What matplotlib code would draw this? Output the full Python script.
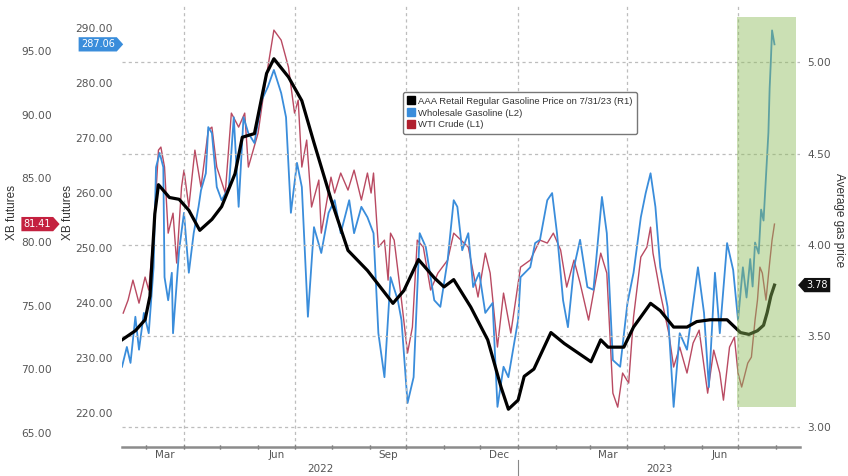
import matplotlib
matplotlib.use('Agg')
import matplotlib.pyplot as plt
import matplotlib.dates as mdates
from matplotlib.lines import Line2D
from matplotlib.patches import Rectangle
from matplotlib.path import Path
from matplotlib.transforms import blended_transform_factory
import pandas as pd

# AAA retail regular gasoline ($/gal, right axis)
gas_dates = ['2022-02-09', '2022-02-20', '2022-02-28', '2022-03-04', '2022-03-08', '2022-03-11',
             '2022-03-20', '2022-03-28', '2022-04-05', '2022-04-14', '2022-04-24', '2022-05-02',
             '2022-05-13', '2022-05-19', '2022-05-29', '2022-06-08', '2022-06-14', '2022-06-26',
             '2022-07-07', '2022-07-17', '2022-07-31', '2022-08-14', '2022-08-30', '2022-09-13',
             '2022-09-20', '2022-09-29', '2022-10-11', '2022-10-24', '2022-11-01', '2022-11-09',
             '2022-11-23', '2022-12-07', '2022-12-18', '2022-12-24', '2023-01-01', '2023-01-06',
             '2023-01-14', '2023-01-28', '2023-02-08', '2023-02-19', '2023-03-02', '2023-03-10',
             '2023-03-16', '2023-03-29', '2023-04-06', '2023-04-20', '2023-04-28', '2023-05-09',
             '2023-05-20', '2023-05-28', '2023-06-08', '2023-06-22', '2023-07-03', '2023-07-10',
             '2023-07-17', '2023-07-22', '2023-07-25', '2023-07-28', '2023-07-31']
gas_vals = [3.48, 3.53, 3.59, 3.72, 4.17, 4.33,
            4.26, 4.25, 4.19, 4.08, 4.14, 4.21,
            4.39, 4.59, 4.61, 4.94, 5.02, 4.92,
            4.79, 4.56, 4.25, 3.97, 3.86, 3.74,
            3.68, 3.75, 3.92, 3.82, 3.77, 3.81,
            3.66, 3.48, 3.22, 3.10, 3.15, 3.28,
            3.32, 3.52, 3.46, 3.41, 3.36, 3.48,
            3.44, 3.44, 3.55, 3.68, 3.64, 3.55,
            3.55, 3.58, 3.59, 3.59, 3.52, 3.51,
            3.53, 3.56, 3.63, 3.72, 3.78]

# Wholesale gasoline, XB futures (L2)
xb_dates = ['2022-02-09', '2022-02-13', '2022-02-16', '2022-02-20', '2022-02-23', '2022-02-27',
            '2022-03-03', '2022-03-07', '2022-03-09', '2022-03-12', '2022-03-15', '2022-03-16',
            '2022-03-19', '2022-03-22', '2022-03-23', '2022-03-28', '2022-04-01', '2022-04-05',
            '2022-04-09', '2022-04-13', '2022-04-15', '2022-04-19', '2022-04-21', '2022-04-24',
            '2022-04-28', '2022-05-02', '2022-05-08', '2022-05-12', '2022-05-16', '2022-05-20',
            '2022-05-24', '2022-05-29', '2022-06-04', '2022-06-09', '2022-06-14', '2022-06-20',
            '2022-06-24', '2022-06-28', '2022-07-03', '2022-07-07', '2022-07-12', '2022-07-17',
            '2022-07-23', '2022-07-29', '2022-08-03', '2022-08-08', '2022-08-15', '2022-08-19',
            '2022-08-25', '2022-08-30', '2022-09-04', '2022-09-08', '2022-09-13', '2022-09-18',
            '2022-09-24', '2022-09-27', '2022-10-02', '2022-10-07', '2022-10-12', '2022-10-17',
            '2022-10-24', '2022-10-29', '2022-11-04', '2022-11-09', '2022-11-12', '2022-11-16',
            '2022-11-21', '2022-11-25', '2022-11-30', '2022-12-05', '2022-12-11', '2022-12-15',
            '2022-12-20', '2022-12-24', '2023-01-01', '2023-01-03', '2023-01-11', '2023-01-15',
            '2023-01-19', '2023-01-25', '2023-01-29', '2023-02-02', '2023-02-07', '2023-02-11',
            '2023-02-16', '2023-02-21', '2023-02-27', '2023-03-04', '2023-03-11', '2023-03-15',
            '2023-03-20', '2023-03-26', '2023-04-01', '2023-04-06', '2023-04-12', '2023-04-16',
            '2023-04-20', '2023-04-24', '2023-04-28', '2023-05-04', '2023-05-09', '2023-05-14',
            '2023-05-20', '2023-05-24', '2023-05-29', '2023-06-03', '2023-06-07', '2023-06-12',
            '2023-06-16', '2023-06-22', '2023-06-27', '2023-07-01', '2023-07-05', '2023-07-08',
            '2023-07-11', '2023-07-13', '2023-07-15', '2023-07-18', '2023-07-20', '2023-07-22',
            '2023-07-24', '2023-07-26', '2023-07-27', '2023-07-28', '2023-07-29', '2023-07-31']
xb_vals = [228.4, 232.0, 229.1, 237.5, 231.5, 238.2,
           234.5, 246.5, 264.7, 267.3, 264.7, 244.7,
           240.5, 245.5, 234.5, 249.6, 256.4, 245.5,
           252.7, 257.5, 260.5, 263.6, 272.0, 270.9,
           261.1, 258.7, 261.1, 273.8, 257.5, 273.8,
           270.9, 269.1, 276.9, 279.3, 282.4, 278.2,
           273.8, 256.4, 265.5, 261.1, 237.5, 253.8,
           249.1, 256.4, 258.7, 252.7, 258.7, 252.7,
           257.5, 255.6, 252.7, 234.5, 226.5, 244.7,
           240.5, 236.9, 221.8, 226.5, 252.7, 250.2,
           240.5, 239.3, 247.8, 258.7, 257.5, 249.6,
           252.7, 242.9, 245.5, 238.2, 240.0, 221.1,
           228.4, 226.5, 236.9, 244.7, 246.5, 250.9,
           251.5, 258.7, 260.0, 252.7, 240.5, 235.6,
           246.5, 251.5, 242.9, 242.4, 259.3, 252.7,
           229.6, 228.4, 240.0, 245.5, 255.6, 260.0,
           263.6, 257.5, 246.5, 239.3, 221.1, 234.5,
           231.5, 238.2, 246.5, 238.2, 224.7, 245.5,
           234.5, 250.9, 246.0, 236.9, 246.5, 241.0,
           248.0, 243.0, 251.0, 249.0, 257.0, 255.0,
           263.0, 271.0, 279.0, 284.0, 289.6, 287.06]

# WTI crude (L1)
wti_dates = ['2022-02-10', '2022-02-14', '2022-02-18', '2022-02-23', '2022-02-28', '2022-03-03',
             '2022-03-07', '2022-03-11', '2022-03-13', '2022-03-16', '2022-03-19', '2022-03-23',
             '2022-03-26', '2022-03-30', '2022-04-01', '2022-04-05', '2022-04-10', '2022-04-15',
             '2022-04-21', '2022-04-24', '2022-04-28', '2022-05-05', '2022-05-10', '2022-05-16',
             '2022-05-21', '2022-05-24', '2022-06-01', '2022-06-06', '2022-06-14', '2022-06-20',
             '2022-06-26', '2022-07-01', '2022-07-04', '2022-07-07', '2022-07-11', '2022-07-15',
             '2022-07-21', '2022-07-23', '2022-07-31', '2022-08-03', '2022-08-08', '2022-08-14',
             '2022-08-19', '2022-08-25', '2022-08-30', '2022-09-02', '2022-09-04', '2022-09-08',
             '2022-09-13', '2022-09-16', '2022-09-18', '2022-09-21', '2022-09-27', '2022-10-02',
             '2022-10-06', '2022-10-10', '2022-10-15', '2022-10-21', '2022-10-27', '2022-11-04',
             '2022-11-09', '2022-11-21', '2022-11-29', '2022-12-05', '2022-12-09', '2022-12-15',
             '2022-12-20', '2022-12-26', '2023-01-03', '2023-01-11', '2023-01-19', '2023-01-25',
             '2023-01-30', '2023-02-05', '2023-02-10', '2023-02-16', '2023-02-21', '2023-02-28',
             '2023-03-04', '2023-03-10', '2023-03-15', '2023-03-20', '2023-03-24', '2023-03-28',
             '2023-04-02', '2023-04-06', '2023-04-12', '2023-04-17', '2023-04-20', '2023-04-22',
             '2023-04-28', '2023-05-05', '2023-05-09', '2023-05-14', '2023-05-20', '2023-05-25',
             '2023-05-30', '2023-06-06', '2023-06-11', '2023-06-16', '2023-06-19', '2023-06-24',
             '2023-06-28', '2023-07-01', '2023-07-04', '2023-07-09', '2023-07-12', '2023-07-15',
             '2023-07-17', '2023-07-19', '2023-07-21', '2023-07-24', '2023-07-27', '2023-07-29',
             '2023-07-31']
wti_vals = [74.42, 75.44, 77.01, 75.20, 77.25, 76.23,
            80.70, 87.22, 87.46, 85.89, 80.70, 82.27,
            78.35, 84.32, 85.65, 82.75, 87.22, 84.32,
            88.79, 89.03, 85.89, 83.85, 90.13, 89.03,
            90.13, 85.89, 88.56, 91.94, 96.65, 95.86,
            93.74, 90.13, 91.15, 85.89, 88.01, 82.75,
            84.87, 80.70, 85.10, 83.85, 85.42, 84.08,
            85.65, 83.30, 85.42, 83.85, 85.42, 79.60,
            80.15, 77.01, 80.70, 80.15, 75.44, 71.28,
            73.32, 80.15, 79.60, 76.23, 77.56, 78.58,
            80.70, 79.60, 75.68, 79.13, 77.56, 71.75,
            75.99, 72.85, 78.03, 78.58, 80.15, 79.92,
            80.70, 79.37, 76.46, 78.58, 76.78, 73.87,
            75.99, 79.13, 77.56, 68.13, 67.03, 69.71,
            68.92, 74.10, 78.82, 79.60, 81.17, 79.13,
            75.99, 72.85, 70.18, 71.75, 69.71, 72.06,
            73.08, 68.13, 71.51, 69.71, 67.58, 71.75,
            72.53, 69.71, 68.61, 70.49, 70.96, 73.87,
            75.44, 78.03, 77.56, 75.44, 78.35, 80.15,
            81.41]

gas_ticks = [3.0, 3.5, 4.0, 4.5, 5.0]
xb_ticks = [220, 230, 240, 250, 260, 270, 280, 290]
wti_ticks = [65, 70, 75, 80, 85, 90, 95]
month_labels = ['Mar', 'Jun', 'Sep', 'Dec', 'Mar', 'Jun']
year_labels = ['2022', '2023']

legend_labels = ['AAA Retail Regular Gasoline Price on 7/31/23 (R1)',
                 'Wholesale Gasoline (L2)',
                 'WTI Crude (L1)']

# highlighted window (on the gas axis)
shade_start, shade_end = '2023-06-30', '2023-08-18'
shade_low, shade_high = 3.11, 5.25

BLUE = '#3a8ddb'
RED = '#b94a62'
BLACK = '#000000'
GREEN = '#8dbb5a'
GRID = '#bdbdbd'
TXT = '#555555'

NARROW = ['Liberation Sans', 'DejaVu Sans']


def tag_style(tip):
    def style(x0, y0, width, height, mutation_size):
        pad = 0.22 * mutation_size
        x0 -= pad
        y0 -= pad
        x1 = x0 + width + 2 * pad
        y1 = y0 + height + 2 * pad
        t = (y1 - y0) * 0.45
        ym = (y0 + y1) / 2
        if tip == 'right':
            verts = [(x0, y0), (x1, y0), (x1 + t, ym), (x1, y1), (x0, y1), (x0, y0)]
        else:
            verts = [(x0, y0), (x1, y0), (x1, y1), (x0, y1), (x0 - t, ym), (x0, y0)]
        return Path(verts, closed=True)
    return style


def main():
    plt.rcParams['font.family'] = 'DejaVu Sans'
    fig = plt.figure(figsize=(8.48, 4.76), dpi=100)
    W, H = 848, 476
    ax = fig.add_axes([122 / W, 1 - 447 / H, (800 - 122) / W, (447 - 4) / H])
    ax_xb = ax.twinx()
    ax_wti = ax.twinx()

    ax_wti.set_zorder(1)
    ax_xb.set_zorder(2)
    ax.set_zorder(3)
    ax.patch.set_visible(False)
    ax_xb.patch.set_visible(False)

    gd = pd.to_datetime(gas_dates)
    xd = pd.to_datetime(xb_dates)
    wd = pd.to_datetime(wti_dates)

    ax_wti.plot(wd, wti_vals, color=RED, lw=1.0)
    ax_xb.plot(xd, xb_vals, color=BLUE, lw=1.3)
    ax.plot(gd, gas_vals, color=BLACK, lw=2.3, solid_joinstyle='round')

    s0, s1 = pd.Timestamp(shade_start), pd.Timestamp(shade_end)
    ax.add_patch(Rectangle((mdates.date2num(s0), shade_low),
                           mdates.date2num(s1) - mdates.date2num(s0),
                           shade_high - shade_low,
                           facecolor=GREEN, alpha=0.45, edgecolor='none', zorder=5))

    ax.set_xlim(pd.Timestamp('2022-02-09'), pd.Timestamp('2023-08-21'))
    ax.set_ylim(2.893, 5.32)
    ax_xb.set_ylim(213.8, 294.4)
    ax_wti.set_ylim(63.9, 98.7)

    # right axis: gas
    ax.yaxis.tick_right()
    ax.set_yticks(gas_ticks)
    ax.set_yticklabels([f'{v:.2f}' for v in gas_ticks])
    ax.tick_params(axis='y', length=0, pad=5.5, labelsize=7.7, labelcolor=TXT)
    ax.grid(axis='y', color=GRID, lw=0.9, ls=(0, (2.5, 2.5)))

    # inner left axis: XB
    ax_xb.yaxis.tick_left()
    ax_xb.set_yticks(xb_ticks)
    ax_xb.set_yticklabels([f'{v:.2f}' for v in xb_ticks])
    ax_xb.tick_params(axis='y', length=0, pad=6.5, labelsize=7.7, labelcolor=TXT)

    # outer left axis: WTI
    ax_wti.yaxis.tick_left()
    ax_wti.spines['left'].set_position(('outward', 44))
    ax_wti.set_yticks(wti_ticks)
    ax_wti.set_yticklabels([f'{v:.2f}' for v in wti_ticks])
    ax_wti.tick_params(axis='y', length=0, pad=6.5, labelsize=7.7, labelcolor=TXT)

    for a in (ax, ax_xb, ax_wti):
        for side in ('left', 'right', 'top', 'bottom'):
            a.spines[side].set_visible(False)
    ax.spines['bottom'].set_visible(True)
    ax.spines['bottom'].set_color('#8c8c8c')
    ax.spines['bottom'].set_linewidth(1.8)

    # x axis: monthly ticks, quarter labels at mid-month
    ax.xaxis.set_major_locator(mdates.MonthLocator())
    ax.xaxis.set_major_formatter(plt.NullFormatter())
    ax.xaxis.set_minor_locator(mdates.MonthLocator(bymonth=(3, 6, 9, 12), bymonthday=16))
    ax.set_xticks(ax.get_xticks(minor=True), minor=True)
    ax.set_xticklabels(month_labels, minor=True)
    ax.tick_params(axis='x', which='major', direction='inout', length=3, width=1, color='#555555')
    ax.tick_params(axis='x', which='minor', length=0, pad=2.5, labelsize=7.5, labelcolor=TXT)

    # vertical grid at quarter starts
    for q in pd.date_range('2022-04-01', '2023-07-01', freq='QS'):
        ax.axvline(q, color=GRID, lw=0.9, ls=(0, (2.5, 2.5)), zorder=0)

    # year labels and separator
    trans = blended_transform_factory(ax.transData, ax.transAxes)
    x0, x1 = ax.get_xlim()
    jan = mdates.date2num(pd.Timestamp('2023-01-01'))
    ax.text((x0 + jan) / 2, -0.05, year_labels[0], transform=trans, ha='center', va='center',
            fontsize=7.5, color=TXT)
    ax.text((jan + x1) / 2, -0.05, year_labels[1], transform=trans, ha='center', va='center',
            fontsize=7.5, color=TXT)
    ax.plot([jan, jan], [-0.03, -0.075], transform=trans, color='#888888', lw=0.8, clip_on=False)

    # axis titles
    fig.text(12 / W, 1 - 212 / H, 'XB futures', rotation=90, ha='center', va='center',
             fontsize=8.5, color='#333333', family=NARROW)
    fig.text(68 / W, 1 - 212 / H, 'XB futures', rotation=90, ha='center', va='center',
             fontsize=8.5, color='#333333', family=NARROW)
    fig.text(839 / W, 1 - 220 / H, 'Average gas price', rotation=270, ha='center', va='center',
             fontsize=8.5, color='#333333', family=NARROW)

    # last-value tags
    ax_xb.annotate(f'{xb_vals[-1]:.2f}', xy=(0, xb_vals[-1]), xycoords=('axes fraction', 'data'),
                   xytext=(-17.5, 0), textcoords='offset points', ha='center', va='center',
                   fontsize=7, color='white', zorder=10, annotation_clip=False,
                   bbox=dict(boxstyle=tag_style('right'), fc=BLUE, ec='none'))
    ax_wti.annotate(f'{wti_vals[-1]:.2f}', xy=(0, wti_vals[-1]), xycoords=('axes fraction', 'data'),
                    xytext=(-61, 0), textcoords='offset points', ha='center', va='center',
                    fontsize=7, color='white', zorder=10, annotation_clip=False,
                    bbox=dict(boxstyle=tag_style('right'), fc='#c4213f', ec='none'))
    ax.annotate(f'{gas_vals[-1]:.2f}', xy=(1, gas_vals[-1]), xycoords=('axes fraction', 'data'),
                xytext=(12.5, 0), textcoords='offset points', ha='center', va='center',
                fontsize=7, color='white', zorder=10, annotation_clip=False,
                bbox=dict(boxstyle=tag_style('left'), fc='#111111', ec='none'))

    # legend
    handles = [Line2D([], [], marker='s', ls='none', color=c, markersize=5.5)
               for c in (BLACK, BLUE, '#b0202e')]
    leg = ax.legend(handles, legend_labels, loc='upper left',
                    bbox_to_anchor=(403 / W, 1 - 92 / H), bbox_transform=fig.transFigure,
                    prop={'family': NARROW, 'size': 6.8}, handlelength=0.7, handletextpad=0.4,
                    labelspacing=0.3, borderpad=0.5, borderaxespad=0, frameon=True,
                    fancybox=True, framealpha=1, edgecolor='#777777')
    leg.get_frame().set_linewidth(1.0)
    for t in leg.get_texts():
        t.set_color('#333333')
    leg.set_zorder(20)

    fig.savefig('out.png', dpi=100)


if __name__ == "__main__":
    main()
